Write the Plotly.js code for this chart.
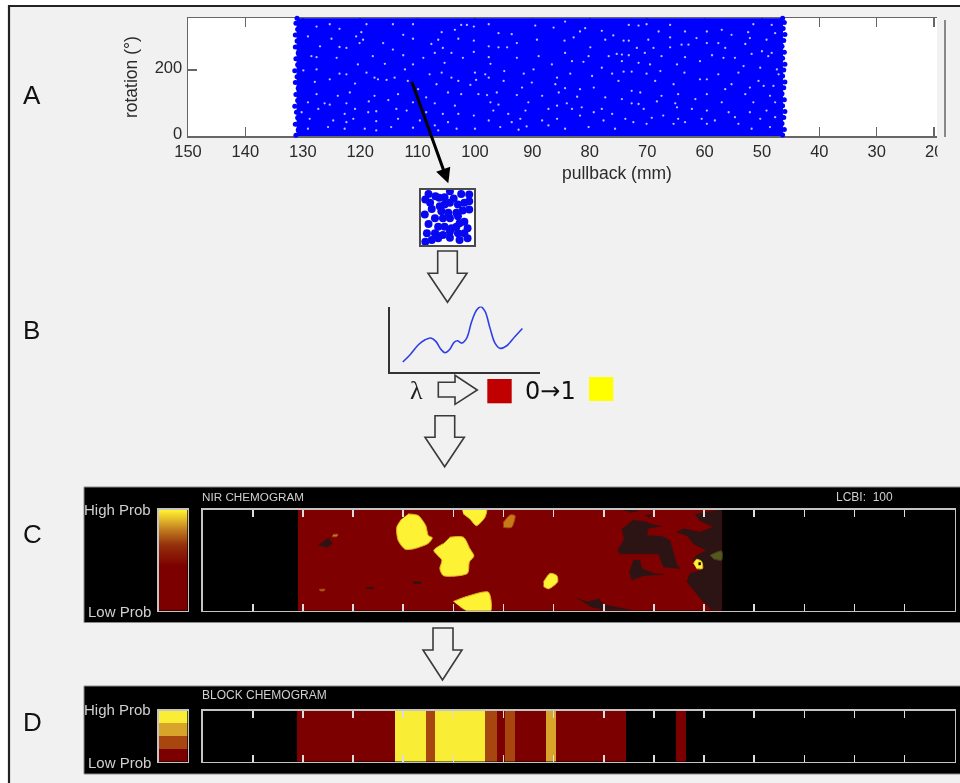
<!DOCTYPE html>
<html><head><meta charset="utf-8">
<script src="https://cdn.plot.ly/plotly-3.0.1.min.js"></script>
<style>html,body{margin:0;padding:0;background:#fff}#c{width:960px;height:783px;filter:blur(0.4px)}</style>
</head><body><div id="c"></div>
<script>
// ---------- Panel A: pullback (mm) vs rotation (deg)
const pullbackTicks=[150,140,130,120,110,100,90,80,70,60,50,40,30,20];
const rotationTicks=[0,200];
const bandMm=[131,46.4,46.4,131,131];
const bandDeg=[-1,-1,358,358,-1];
const bandEdge=[[131.2,2],[130.8,18],[131.3,36],[130.9,55],[131.1,72],[131.4,90],[130.9,108],[131.2,126],[130.8,145],[131.3,162],[131,180],[131.4,198],[130.9,216],[131.2,234],[130.8,252],[131.3,270],[131,288],[131.3,306],[130.9,324],[131.2,342],[131,357],
[46.4,3],[46.1,20],[46.5,38],[46.2,56],[46,74],[46.4,92],[46.1,110],[46.5,128],[46.2,146],[46,164],[46.4,182],[46.2,200],[46,218],[46.4,236],[46.1,254],[46.5,272],[46.2,290],[46,308],[46.3,326],[46.1,344],[46.4,357],
[127,358],[123.5,359],[119,358],[115,359],[110,358],[106,359],[101,358],[97,359],[92,358],[88,359],[83,358],[79,359],[74,358],[70,359],[65,358],[61,359],[56,358],[52,359],[48,358],
[128,-1],[124,-2],[120,-1],[116,-1],[111,-2],[107,-1],[102,-1],[94.5,-4],[90,-1],[85,-2],[81,-1],[76,-1],[72,-2],[67,-1],[63,-1],[58,-2],[54,-1],[51.5,-3],[48,-1]];
const specks=[
[127.6,332],[125.3,339],[123.6,325],[119.8,315],[118.9,339],[114.3,339],[110.8,339],[105.8,315],[103.5,322],[102.4,337],[129.1,302],[125,295],[120.7,302],[119.5,292],[116,282],[112.5,307],[110.8,295],[106.4,292],[102.9,295],[127,272],[123.6,270],[122.4,267],[120.1,282],[114.3,262],[107.6,279],[105.6,267],[104.1,252],[109,237],[128.5,242],[127.6,239],[124.1,237],[117.8,242],[115.7,219],[112.5,245],[107,252],[105.3,222],[102.1,237],[129.9,199],[127.6,202],[123.6,189],[122.4,187],[120.4,217],[117.5,177],[115.4,170],[112.2,202],[110.8,217],[107.9,187],[105.8,192],[104.1,177],[127.9,164],[125.3,172],[120.9,159],[116.9,172],[114,177],[111.7,167],[106.7,157],[102.9,167],[118.9,192],[127.6,127],[123.9,122],[121.8,132],[117.5,122],[113.4,127],[109.9,142],[108.5,117],[104.7,132],[102.4,127],[129.1,102],[126.2,99],[125.3,95],[122.4,99],[118.5,105],[115.1,109],[110.8,102],[107,99],[103.5,92],[130.2,72],[127.3,82],[122.7,67],[120.9,82],[118.6,72],[117.2,75],[113.7,82],[111.9,77],[108.5,72],[105.6,67],[102.9,67],[128.8,52],[124.7,47],[122.4,42],[121.2,52],[117.2,45],[113.4,52],[109.6,47],[107,32],[104.7,42],[129.1,22],[125.6,27],[122.7,22],[119.2,22],[117.2,17],[114.6,27],[110.8,25],[106.4,17],[103.2,22],
[101.4,337],[100.2,332],[97.6,339],[95.9,312],[93.6,309],[89.5,335],[86.3,329],[84.3,347],[81.7,317],[80.8,327],[77.9,319],[75.9,305],[73.2,337],[100.2,289],[97.6,272],[95.9,269],[94.4,269],[92.7,282],[89.2,292],[84.4,289],[82.8,299],[79.9,269],[77.3,292],[74.1,289],[73.2,289],[100.2,255],[97.6,239],[97.3,219],[92.7,237],[88.9,242],[84.3,252],[80.2,242],[76.7,242],[75.3,249],[74.4,247],[73.2,245],[100,192],[98.2,187],[94.9,197],[91.5,189],[89.8,202],[86.6,217],[83.1,227],[81.1,225],[77.9,207],[74.4,227],[99.8,170],[97.6,177],[95,167],[90.1,162],[85.7,177],[83.4,189],[79.6,182],[76.1,189],[74.1,195],[72.7,195],[100.8,155],[96.2,132],[91.8,147],[86,157],[84.3,145],[81.7,142],[79.3,147],[75,167],[72.7,137],[99.4,127],[97.9,124],[92.7,124],[88.3,122],[85.4,132],[82.2,119],[77.3,117],[74.4,112],[97.3,102],[95.9,95],[90.7,102],[85.7,92],[84,99],[81.4,87],[77.9,82],[72.7,99],[100.2,62],[96.8,77],[94.2,67],[91.2,77],[87.2,82],[83.1,82],[79.3,72],[76.1,67],[73.8,52],[97.6,47],[93.6,42],[92.1,52],[88.3,47],[85.7,52],[81.7,62],[77.6,47],[72.4,42],[100,22],[95.6,27],[92.4,19],[91,29],[87.2,32],[84.3,22],[80.2,27],[75.6,22],
[71.5,335],[70.1,339],[68,317],[66,337],[63.4,317],[59.6,317],[57,322],[52.4,315],[51.5,339],[48.3,337],[69.8,292],[66,299],[64,277],[61.4,297],[57.6,282],[55.3,307],[52.1,297],[49.2,292],[47.7,312],[71.8,267],[68.9,267],[66,269],[62.8,277],[59.6,282],[56.4,267],[52.9,279],[50,257],[48.3,252],[70.4,252],[67.5,242],[63.4,239],[58.7,245],[54.7,237],[51.8,249],[48.9,242],[71.5,222],[69.5,217],[64.8,217],[60.8,227],[56.7,237],[53.2,212],[50.3,207],[47.4,202],[70.1,189],[67.7,197],[63.5,192],[60.8,172],[57.6,187],[54.1,192],[50.6,167],[47.1,187],[68.6,167],[65.4,157],[59.6,172],[55.3,157],[52.1,147],[49.7,152],[48,152],[71.2,132],[67.5,122],[64.6,127],[59.6,127],[56.4,142],[52.9,127],[48.6,122],[71.5,97],[68.3,105],[65.1,99],[61.6,112],[57,102],[51.5,102],[47.7,102],[70.6,82],[64.8,87],[62.2,82],[59.6,77],[55.8,72],[52.1,72],[49.2,77],[69.2,55],[67.2,62],[64.6,52],[60.5,52],[58.2,47],[54.7,57],[50.3,52],[47.7,57],[70.1,37],[65.4,37],[63.4,42],[59.6,37],[54.1,37],[51.8,22],[48.6,27]];
// enlarged window of samples
const insetDots=[[15,92],[28,88],[55,97],[76,92],[91,91],[9,82],[18,76],[35,85],[45,86],[62,84],[91,79],[8,55],[21,65],[36,70],[45,73],[55,76],[70,73],[82,76],[39,61],[52,58],[67,58],[79,62],[91,64],[15,38],[27,48],[42,48],[55,48],[70,52],[82,42],[12,21],[27,21],[33,33],[45,33],[58,30],[67,33],[73,39],[88,30],[42,18],[55,24],[70,21],[88,12],[21,9],[33,12],[55,13],[73,9],[9,6],[30,18],[82,21]];
// ---------- Panel B: spectrum
const lambda=[8.8,13.7,19.2,23.7,27.4,30.8,34,36.9,39.8,42.9,45.1,48,51.3,54.6,58,60.6,63.5,66.8,70.1,73.5,77.9,83.4,88.3];
const intensity=[15.9,27.5,43.4,51.3,54,48.7,36.5,30.7,35.4,47.1,49.7,46,54,80.4,98.9,104,96.3,69.8,46,37.6,41.8,56.6,69.3];
// ---------- Panel C: chemogram regions [mm,deg]
const scanRegion=[[131,0],[46.5,0],[46.5,360],[131,360]];
const yellowRegions=[
[[109,345],[107,339],[105.5,303],[105,268],[104.2,260],[105,240],[107.8,221],[109.6,219],[111,250],[111.3,297],[110.3,327]],
[[100.7,262],[98,262],[96.7,221],[95.9,195],[96.8,174],[97.2,133],[102,125],[102.7,150],[102.3,180],[103.9,215],[102,239]],
[[100,33],[97.3,51],[93,66],[92.6,-3],[97,-3],[98.7,15]],
[[98.3,363],[93.4,363],[93.7,333],[95.4,303],[96.7,327],[98,345]],
[[82,103],[80.7,133],[79.35,125],[79.2,103],[81,78],[82,86]],
[[52.1,168],[51.5,183],[50.5,176],[50.3,150],[51.5,150]]];
const amberRegions=[[[90,315],[88.7,341],[87.7,339],[88.4,297],[90,297]],[[124,272],[123,272],[123.3,264],[124.2,264]],[[126.8,76],[125.6,76],[125.8,71],[126.6,71]]];
const darkRegions=[
[[50.1,350],[46.8,360],[46.5,360],[46.5,3],[48.5,3],[50.5,39],[53.4,103],[52.8,133],[50.5,145],[51.5,162],[52.1,180],[51.5,198],[49.5,215],[52.1,239],[53.4,268],[55.4,280],[54.1,292],[50.8,280],[48.1,298],[50.8,321],[51.8,345]],
[[65.1,309],[64.1,323],[61.75,317],[60.1,306],[58.6,301],[61.1,294],[61.4,268],[58.4,265],[56.8,250],[56.2,215],[55.4,162],[54.8,150],[58.1,156],[59.1,203],[62.1,203],[66.7,203],[67.2,215],[65.9,256],[66.4,292]],
[[64.1,180],[62.8,180],[62.4,150],[60.1,133],[58.1,129],[62.1,125],[64.4,109],[64.9,139]],
[[75.4,45],[73.4,31],[71,42],[70,21],[64.7,3],[70,3],[72.7,15]],
[[66.4,360],[63.1,356],[64.7,350]],
[[61.75,341],[60.4,341],[61.1,330]],
[[126.9,233],[124.9,259],[124.2,239],[125.2,225]],
[[117.4,83],[116,83],[116,78],[117.4,78]],
[[108,103],[106.5,103],[106.5,97],[108,97]]];
const glowRegion=[[48.8,198],[46.5,213],[46.5,180],[48.1,184]];
const blackSpot=[[51.1,172],[50.7,172],[50.7,163],[51.1,163]];
const probLevels=[0,0.1,0.2,0.3,0.4,0.5,0.6,0.7,0.8,0.9,1];
// ---------- Panel D: block chemogram
const blockEdgesMm=[53.65,55.6,65.6,79.6,81.5,87.7,89.7,91.4,93.7,103.65,105.5,111.75,131.2];
const blockLevels=[0,null,0,2,0,1,0,1,3,1,3,0];
const legendLevels=[0,1,2,3];
const chemoTicks=[140,130,120,110,100,90,80,70,60,50,40,30,20,10];

// ---------- helpers for layout placement
const W=960,H=783;
const dx=(a,b)=>[a/W,b/W], dy=(t,b)=>[1-b/H,1-t/H];
const px=x=>x/W, py=y=>1-y/H;
const rect=(x0,y0,x1,y1,fill,line,lw,layer)=>({type:'rect',xref:'paper',yref:'paper',x0:px(x0),x1:px(x1),y0:py(y1),y1:py(y0),fillcolor:fill,line:{color:line||fill,width:lw===undefined?0:lw},layer:layer||'below'});
const path=pts=>({type:'path',xref:'paper',yref:'paper',path:'M'+pts.map(p=>px(p[0])+','+py(p[1])).join('L')+'Z',fillcolor:'#f1f1f1',line:{color:'#3a3a3a',width:1.6},layer:'above'});
const downArrow=(xl,xr,wl,wr,top,sh,tip)=>path([[xl,top],[xr,top],[xr,sh],[wr,sh],[(wl+wr)/2,tip],[wl,sh],[xl,sh]]);
const txt=(s,x,y,size,color,anchor,fam,extra)=>Object.assign({text:s,xref:'paper',yref:'paper',x:px(x),y:py(y),showarrow:false,xanchor:anchor||'left',yanchor:'middle',font:{size:size,color:color,family:fam||'Liberation Sans'}},extra||{});
const poly=(pts,fill,line,ax,spline)=>({type:'scatter',mode:'lines',x:pts.map(p=>p[0]),y:pts.map(p=>p[1]),fill:'toself',fillcolor:fill,line:{color:line,width:line===fill?0.5:1,shape:spline?'spline':'linear',smoothing:0.7},xaxis:'x'+ax,yaxis:'y'+ax,hoverinfo:'skip',showlegend:false});

const RED='#7f0000',YEL='#fdf233';
const blockScale=[[0,'#7d0000'],[0.25,'#7d0000'],[0.25,'#a8460f'],[0.5,'#a8460f'],[0.5,'#d8a52a'],[0.75,'#d8a52a'],[0.75,'#f9ee35'],[1,'#f9ee35']];

const traces=[
 // A
 {type:'scatter',mode:'lines',x:bandMm,y:bandDeg,fill:'toself',fillcolor:'#0000ff',line:{color:'#0000ff',width:1},xaxis:'x',yaxis:'y',hoverinfo:'skip',showlegend:false,cliponaxis:false},
 {type:'scatter',mode:'markers',x:bandEdge.map(p=>p[0]),y:bandEdge.map(p=>p[1]),marker:{color:'#0000ff',size:5},xaxis:'x',yaxis:'y',hoverinfo:'skip',showlegend:false,cliponaxis:false},
 {type:'scatter',mode:'markers',x:specks.map(p=>p[0]),y:specks.map(p=>p[1]),marker:{color:'#bcbcff',size:2.3},xaxis:'x',yaxis:'y',hoverinfo:'skip',showlegend:false},
 // inset
 {type:'scatter',mode:'markers',x:insetDots.map(p=>p[0]),y:insetDots.map(p=>p[1]),marker:{color:'#0808f0',size:8},xaxis:'x6',yaxis:'y6',hoverinfo:'skip',showlegend:false},
 // B
 {type:'scatter',mode:'lines',x:lambda,y:intensity,line:{color:'#2f3fe8',width:1.6,shape:'spline'},xaxis:'x7',yaxis:'y7',hoverinfo:'skip',showlegend:false},
 // C
 poly(scanRegion,RED,RED,2),
 ...darkRegions.map(r=>poly(r,'#2d1414','#2d1414',2)),
 poly(glowRegion,'#55581e','#3f3a18',2,true),
 ...amberRegions.map(r=>poly(r,'#c87a18','#a04a10',2,true)),
 ...yellowRegions.map(r=>poly(r,YEL,'#e0b025',2,true)),
 poly(blackSpot,'#000000','#000000',2),
 // C legend
 {type:'heatmap',x:[0,1],y:probLevels,z:probLevels.map(v=>[v,v]),zmin:0,zmax:1,zsmooth:'best',showscale:false,hoverinfo:'skip',xaxis:'x4',yaxis:'y4',
  colorscale:[[0,'#7d0000'],[0.45,'#7d0000'],[0.65,'#94300c'],[0.8,'#c07a20'],[0.93,'#ecc82e'],[1,'#fff22f']]},
 // D
 {type:'heatmap',x:blockEdgesMm,y:[0,360],z:[blockLevels],zmin:0,zmax:3,showscale:false,hoverinfo:'skip',colorscale:blockScale,xaxis:'x3',yaxis:'y3'},
 // D legend
 {type:'heatmap',x:[0,1],y:[0,1,2,3,4],z:legendLevels.map(v=>[v]),zmin:0,zmax:3,showscale:false,hoverinfo:'skip',colorscale:blockScale,xaxis:'x5',yaxis:'y5'}
];

const FR='#c4c4c4';
const chemoX=(anchor,dom)=>({domain:dom,anchor:anchor,range:[150,0],tickmode:'array',tickvals:chemoTicks,ticks:'inside',ticklen:7,tickwidth:1.5,tickcolor:'#ddd',showticklabels:false,showgrid:false,zeroline:false,showline:true,linecolor:FR,linewidth:1.5,mirror:'allticks'});
const frameY=(anchor,dom,range)=>({domain:dom,anchor:anchor,range:range,showticklabels:false,ticks:'',showgrid:false,zeroline:false,showline:true,linecolor:FR,linewidth:1.5,mirror:true});
const frameX=(anchor,dom)=>({domain:dom,anchor:anchor,range:[0,1],showticklabels:false,ticks:'',showgrid:false,zeroline:false,showline:true,linecolor:FR,linewidth:1.5,mirror:true});
const AXF={family:'Liberation Sans',size:16.5,color:'#2a2a2a'};

const layout={
 width:W,height:H,margin:{l:0,r:0,t:0,b:0},paper_bgcolor:'#ffffff',plot_bgcolor:'rgba(0,0,0,0)',showlegend:false,
 xaxis:{domain:dx(188,937),anchor:'y',range:[150,19.5],tickmode:'array',tickvals:pullbackTicks,ticks:'inside',ticklen:9,tickwidth:1.5,tickcolor:'#666',tickfont:AXF,showgrid:false,zeroline:false,showline:true,linecolor:'#666',linewidth:1.5,mirror:'allticks',layer:'below traces'},
 yaxis:{domain:dy(18.3,136),anchor:'x',range:[0,357],tickmode:'array',tickvals:rotationTicks,ticks:'inside',ticklen:9,tickwidth:1.5,tickcolor:'#666',tickfont:AXF,showgrid:false,zeroline:false,showline:true,linecolor:'#666',linewidth:1.5,layer:'below traces',ticklabelshift:-3,ticklabelstandoff:1,
   title:{text:'rotation (°)',font:{family:'Liberation Sans',size:17.5,color:'#2a2a2a'},standoff:12}},
 xaxis2:chemoX('y2',dx(202.7,954.7)),yaxis2:frameY('x2',dy(509.7,610.7),[0,360]),
 xaxis3:chemoX('y3',dx(202.7,954.7)),yaxis3:frameY('x3',dy(710.7,761.7),[0,360]),
 xaxis4:frameX('y4',dx(158.7,187.5)),yaxis4:frameY('x4',dy(509.7,610.7),[0,1]),
 xaxis5:frameX('y5',dx(158.7,187.5)),yaxis5:frameY('x5',dy(710.7,761.7),[0,4]),
 xaxis6:{domain:dx(420.5,474),anchor:'y6',range:[0,100],showticklabels:false,ticks:'',showgrid:false,zeroline:false,showline:true,linecolor:'#4a4a4a',linewidth:2,mirror:true},
 yaxis6:{domain:dy(189.5,245),anchor:'x6',range:[0,100],showticklabels:false,ticks:'',showgrid:false,zeroline:false,showline:true,linecolor:'#4a4a4a',linewidth:2,mirror:true},
 xaxis7:{domain:dx(389.5,540),anchor:'y7',range:[0,100],showticklabels:false,ticks:'',showgrid:false,zeroline:false,showline:true,linecolor:'#333',linewidth:1.5},
 yaxis7:{domain:dy(306.5,372),anchor:'x7',range:[0,104.2],showticklabels:false,ticks:'',showgrid:false,zeroline:false,showline:true,linecolor:'#333',linewidth:1.5},
 shapes:[
  rect(9,6,962,785,'#f1f1f1','#222',2.2),
  rect(188,18,937,136,'#ffffff'),
  rect(421,190,474,245,'#ffffff'),
  rect(84,487,962,622.5,'#000000','#8a8a8a',1),
  rect(84,686,962,774,'#000000','#8a8a8a',1),
  rect(937.5,139,944,162,'#f1f1f1',null,0,'above'),
  {type:'line',xref:'paper',yref:'paper',x0:px(945),x1:px(945),y0:py(20),y1:py(137),line:{color:'#888',width:2}},
  downArrow(437.7,457.3,428,467,251,273.3,302.3),
  downArrow(435,454.7,425,464.3,415.7,437.3,466.7),
  downArrow(433,453,423,462,628,650,680),
  path([[438.3,382.3],[455,382.3],[455,375.3],[477.3,390],[455,404.3],[455,397],[438.3,397]]),
  rect(487.3,379,511.7,403.3,'#c00000',null,0,'above'),
  rect(589,377,613.3,401,'#ffff00',null,0,'above')
 ],
 annotations:[
  txt('A',21,95,26,'#111'),txt('B',21,330,26,'#111'),txt('C',21,534,26,'#111'),txt('D',21,722,26,'#111'),
  txt('pullback (mm)',617,173,17.5,'#2a2a2a','center'),
  {xref:'paper',yref:'paper',x:px(448.3),y:py(183.3),ax:-37,ay:-103,text:'',showarrow:true,arrowhead:2,arrowsize:1,arrowwidth:3,arrowcolor:'#000'},
  txt('λ',416,390,26,'#222','center','Liberation Serif'),
  txt('0→1',550.5,391,24,'#111','center','DejaVu Sans'),
  txt('High Prob',153,510,15,'#cfcfcf','right'),
  txt('Low Prob',153,611,15,'#cfcfcf','right'),
  txt('NIR CHEMOGRAM',200,496,11.7,'#cfcfcf'),
  txt('LCBI:  100',834,497,12,'#cfcfcf'),
  txt('High Prob',153,709.5,15,'#cfcfcf','right'),
  txt('Low Prob',153,762,15,'#cfcfcf','right'),
  txt('BLOCK CHEMOGRAM',200,695,12,'#cfcfcf')
 ]
};
Plotly.newPlot('c',traces,layout,{staticPlot:true,displayModeBar:false});
</script></body></html>
